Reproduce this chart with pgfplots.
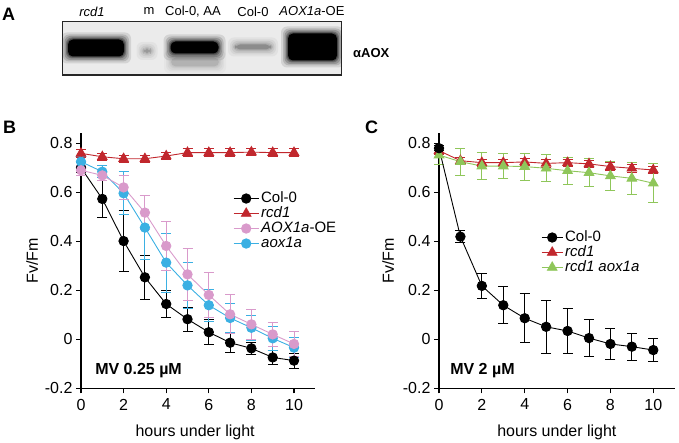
\documentclass[border=0pt]{standalone}
\usepackage{fontspec}
\setmainfont{Liberation Sans}
\usepackage{pgfplots}
\pgfplotsset{compat=1.18}

\definecolor{cred}{HTML}{C1272D}
\definecolor{cpink}{HTML}{D99ACB}
\definecolor{cblue}{HTML}{3BB0E3}
\definecolor{cgreen}{HTML}{8FC65A}

% blurred blot band: xc, yc, core width, core height, colour
\newcommand\band[5]{%
  \foreach \k/\op in {7/0.10,5/0.14,3.5/0.18,2/0.25,1/0.3}{%
    \fill[#5, opacity=\op, rounded corners=6pt]
      (#1-#3/2-\k, #2-#4/2-\k) rectangle (#1+#3/2+\k, #2+#4/2+\k);}%
  \fill[#5, rounded corners=5pt] (#1-#3/2, #2-#4/2) rectangle (#1+#3/2, #2+#4/2);}

\pgfplotsset{
  fvfm/.style={
    scale only axis, height=254.8pt,
    xmin=0, xmax=11, ymin=-0.2, ymax=0.84,
    axis x line=bottom, axis y line=left,
    axis line style={-, line width=1.4pt},
    tick align=outside, major tick length=5pt,
    tick style={line width=1.2pt, black},
    xtick={0,2,...,10}, xticklabels={0,2,4,6,8,10},
    ytick={-0.2,0,0.2,0.4,0.6,0.8}, yticklabels={-0.2,0,0.2,0.4,0.6,0.8},
    tick label style={font=\fontsize{16}{18}\selectfont},
    xticklabel style={yshift=-2pt},
    label style={font=\fontsize{16}{18}\selectfont},
    ylabel={Fv/Fm}, xlabel={hours under light},
    clip=false,
    legend style={draw=none, fill=none, anchor=north west, inner sep=0pt,
      font=\fontsize{15}{15}\selectfont,
      nodes={inner ysep=0pt, inner xsep=2pt, text height=11pt, text depth=4pt}},
    legend cell align=left,
  },
  ser/.style 2 args={color=#1, line width=0.9pt, mark=#2,
    mark options={solid, fill=#1}},
  circ/.style={ser={#1}{*}, mark size=4.7pt},
  tri/.style={ser={#1}{triangle*}, mark size=5.5pt},
  eb/.style={error bars/y dir=both, error bars/y explicit,
    error bars/error bar style={line width=0.9pt},
    error bars/error mark=-,
    error bars/error mark options={rotate=90, line width=0.9pt, mark size=5pt}},
}

\begin{document}
\begin{tikzpicture}[x=1pt,y=1pt]
\useasboundingbox (0,0) rectangle (679,443);

% ---------- panel A: blot ----------
\node[anchor=west, font=\bfseries\fontsize{18}{20}\selectfont, inner sep=0] at (2,429) {A};
\begin{scope}
  \clip (62.7,368) rectangle (341.7,421.3);
  \fill[black!8] (62.7,368) rectangle (341.7,421.3);
  \band{96}{395}{56}{17}{black}
  \band{147}{392}{7}{4}{black!40}
  \band{195}{381}{48}{9}{black!30}
  \band{194.5}{395.5}{48}{12}{black}
  \band{253}{396}{36}{5}{black!45}
  \band{312.5}{396}{49}{27}{black}
\end{scope}
\draw[line width=1.5pt, black!85] (62.7,368) rectangle (341.7,421.3);
\begin{scope}[every node/.style={font=\fontsize{13}{15}\selectfont, inner sep=0}]
  \node at (92,431.5) {\itshape rcd1};
  \node at (149,431.5) {m};
  \node at (193,431.5) {Col-0, AA};
  \node at (253,431.5) {Col-0};
  \node at (312,431.5) {\itshape AOX1a\upshape-OE};
  \node[anchor=west, font=\bfseries\fontsize{13}{15}\selectfont] at (353,390) {αAOX};
\end{scope}

% ---------- panel B ----------
\node[anchor=west, font=\bfseries\fontsize{18}{20}\selectfont, inner sep=0] at (3,315.7) {B};
\begin{axis}[fvfm, width=234.3pt, at={(81pt,54.7pt)}, anchor=south west,
  ylabel style={at={(axis description cs:-0.209,0.5)}, anchor=center},
  xlabel style={at={(axis description cs:0.487,-0.171)}, anchor=center},
  legend style={at={(axis description cs:0.649,0.775)}},
  legend image code/.code={\draw[mark repeat=2,mark phase=2] plot coordinates {(0pt,0pt)(12.5pt,0pt)(25pt,0pt)};}]
\addlegendimage{circ=black}\addlegendentry{Col-0}
\addlegendimage{tri=cred}\addlegendentry{\itshape rcd1}
\addlegendimage{circ=cpink}\addlegendentry{\itshape AOX1a\upshape-OE}
\addlegendimage{circ=cblue}\addlegendentry{\itshape aox1a}

\addplot[forget plot, circ=black, eb] coordinates {
 (0,0.700) +- (0,0.020) (1,0.573) +- (0,0.075) (2,0.401) +- (0,0.125)
 (3,0.253) +- (0,0.090) (4,0.144) +- (0,0.055) (5,0.082) +- (0,0.050)
 (6,0.029) +- (0,0.050) (7,-0.014) +- (0,0.040) (8,-0.037) +- (0,0.025)
 (9,-0.074) +- (0,0.028) (10,-0.087) +- (0,0.030)};
\addplot[forget plot, circ=cblue, eb] coordinates {
 (0,0.725) +- (0,0.020) (1,0.684) +- (0,0.025) (2,0.596) +- (0,0.088)
 (3,0.456) +- (0,0.130) (4,0.313) +- (0,0.120) (5,0.220) +- (0,0.095)
 (6,0.139) +- (0,0.065) (7,0.087) +- (0,0.060) (8,0.047) +- (0,0.050)
 (9,0.004) +- (0,0.050) (10,-0.034) +- (0,0.040)};
\addplot[forget plot, circ=cpink, eb] coordinates {
 (0,0.690) +- (0,0.020) (1,0.669) +- (0,0.020) (2,0.620) +- (0,0.050)
 (3,0.517) +- (0,0.070) (4,0.381) +- (0,0.100) (5,0.265) +- (0,0.105)
 (6,0.181) +- (0,0.090) (7,0.102) +- (0,0.080) (8,0.061) +- (0,0.060)
 (9,0.020) +- (0,0.050) (10,-0.019) +- (0,0.050)};
\addplot[forget plot, tri=cred, eb] coordinates {
 (0,0.759) +- (0,0.015) (1,0.745) +- (0,0.015) (2,0.737) +- (0,0.015)
 (3,0.737) +- (0,0.015) (4,0.748) +- (0,0.015) (5,0.762) +- (0,0.015)
 (6,0.762) +- (0,0.015) (7,0.762) +- (0,0.015) (8,0.764) +- (0,0.015)
 (9,0.762) +- (0,0.015) (10,0.762) +- (0,0.015)};
\node[anchor=west, font=\bfseries\fontsize{16}{18}\selectfont, inner sep=0]
  at (axis description cs:0.06,0.069) {MV 0.25 µM};
\end{axis}

% ---------- panel C ----------
\node[anchor=west, font=\bfseries\fontsize{18}{20}\selectfont, inner sep=0] at (365,316) {C};
\begin{axis}[fvfm, width=235.7pt, at={(439pt,54.7pt)}, anchor=south west,
  ylabel style={at={(axis description cs:-0.216,0.5)}, anchor=center},
  xlabel style={at={(axis description cs:0.5,-0.171)}, anchor=center},
  legend style={at={(axis description cs:0.433,0.622)}},
  legend image code/.code={\draw[mark repeat=2,mark phase=2] plot coordinates {(0pt,0pt)(10.5pt,0pt)(21pt,0pt)};}]
\addlegendimage{circ=black}\addlegendentry{Col-0}
\addlegendimage{tri=cred}\addlegendentry{\itshape rcd1}
\addlegendimage{tri=cgreen}\addlegendentry{\itshape rcd1 aox1a}

\addplot[forget plot, tri=cred, eb] coordinates {
 (0,0.770) +- (0,0.015) (1,0.729) +- (0,0.015) (2,0.721) +- (0,0.015)
 (3,0.721) +- (0,0.015) (4,0.724) +- (0,0.015) (5,0.718) +- (0,0.015)
 (6,0.721) +- (0,0.015) (7,0.716) +- (0,0.015) (8,0.705) +- (0,0.015)
 (9,0.698) +- (0,0.015) (10,0.691) +- (0,0.015)};
\addplot[forget plot, tri=cgreen, eb] coordinates {
 (0,0.752) +- (0,0.040) (1,0.725) +- (0,0.055) (2,0.707) +- (0,0.055)
 (3,0.707) +- (0,0.050) (4,0.705) +- (0,0.055) (5,0.698) +- (0,0.055)
 (6,0.688) +- (0,0.055) (7,0.680) +- (0,0.058) (8,0.667) +- (0,0.058)
 (9,0.657) +- (0,0.065) (10,0.637) +- (0,0.080)};
\addplot[forget plot, circ=black, eb] coordinates {
 (0,0.780) +- (0,0.010) (1,0.419) +- (0,0.025) (2,0.218) +- (0,0.050)
 (3,0.139) +- (0,0.076) (4,0.086) +- (0,0.100) (5,0.051) +- (0,0.107)
 (6,0.034) +- (0,0.090) (7,0.005) +- (0,0.077) (8,-0.019) +- (0,0.062)
 (9,-0.030) +- (0,0.055) (10,-0.044) +- (0,0.048)};
\node[anchor=west, font=\bfseries\fontsize{16}{18}\selectfont, inner sep=0]
  at (axis description cs:0.047,0.069) {MV 2 µM};
\end{axis}
\end{tikzpicture}
\end{document}
